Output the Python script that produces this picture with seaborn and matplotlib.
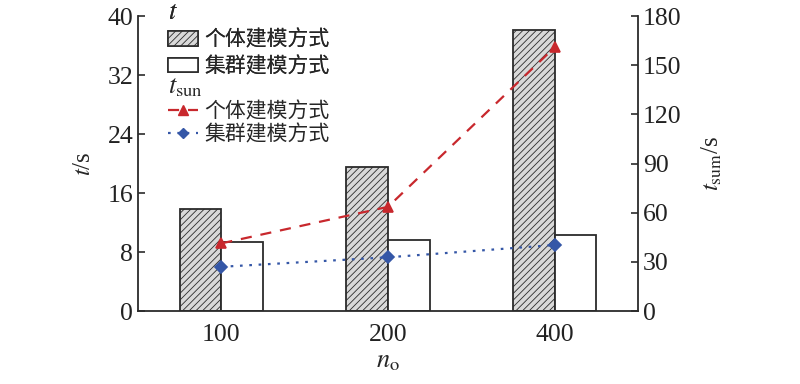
import numpy as np
import pandas as pd
import matplotlib
matplotlib.use('Agg')
import matplotlib.pyplot as plt
import seaborn as sns
from matplotlib.patches import Patch
from matplotlib.lines import Line2D

# data
n_values = ['100', '200', '400']
modes = ['个体建模方式', '集群建模方式']
t_individual = [13.8, 19.6, 38.1]
t_cluster = [9.3, 9.7, 10.3]
tsum_individual = [41.3, 63.6, 161.0]
tsum_cluster = [27.0, 32.8, 40.3]

bar_df = pd.DataFrame({
    'n': n_values * 2,
    't': t_individual + t_cluster,
    'mode': [modes[0]] * 3 + [modes[1]] * 3,
})
line_df = pd.DataFrame({
    'n': n_values * 2,
    'tsum': tsum_individual + tsum_cluster,
    'mode': [modes[0]] * 3 + [modes[1]] * 3,
})

sns.set_style('ticks')
plt.rcParams['font.family'] = ['Liberation Serif', 'Noto Sans CJK SC']
plt.rcParams['mathtext.fontset'] = 'stix'
plt.rcParams['hatch.linewidth'] = 0.6

edge = '#2b2b2b'
red = '#c8282d'
blue = '#3557a7'

fig, ax = plt.subplots(figsize=(8, 3.84), dpi=100)
fig.subplots_adjust(left=0.1725, right=0.7975, top=0.958, bottom=0.19)

sns.barplot(data=bar_df, x='n', y='t', hue='mode', hue_order=modes,
            palette=['#d9d9d9', 'white'], width=0.5, edgecolor=edge,
            linewidth=1.3, legend=False, ax=ax)
for p in ax.patches[:3]:
    p.set_hatch('/////')

ax.set_ylim(0, 40)
ax.set_yticks(np.arange(0, 41, 8))
ax.set_xlim(-0.5, 2.5)
ax.set_xlabel('$n_{\\mathrm{o}}$', fontsize=19, labelpad=4)
ax.set_ylabel('$t$/s', fontsize=18, labelpad=9)

ax2 = ax.twinx()
sns.pointplot(data=line_df, x='n', y='tsum', hue='mode', hue_order=modes,
              palette=[red, blue], markers=['^', 'D'], linestyles=['--', ':'],
              markersize=6.5, linewidth=1.6, dodge=False, errorbar=None,
              legend=False, ax=ax2)
ax2.lines[0].set_dashes([5, 4])
ax2.lines[1].set_dashes([1.2, 3])
ax2.set_ylim(0, 180)
ax2.set_yticks(np.arange(0, 181, 30))
ax2.set_xlim(-0.5, 2.5)
ax2.set_ylabel('$t_{\\mathrm{sum}}$/s', fontsize=18, labelpad=13)

for a in (ax, ax2):
    a.tick_params(direction='in', length=5, width=1.2, colors=edge,
                  labelsize=18.5, labelcolor='#222222')
    for s in a.spines.values():
        s.set_color(edge)
        s.set_linewidth(1.3)
    a.spines['top'].set_visible(False)
ax.spines['right'].set_visible(False)
ax2.spines['left'].set_visible(False)
ax2.spines['bottom'].set_visible(False)
ax.tick_params(axis='x', length=0, pad=9)

leg_font = {'size': 15}
bar_handles = [Patch(facecolor='#d9d9d9', edgecolor=edge, hatch='/////', linewidth=1.2),
               Patch(facecolor='white', edgecolor=edge, linewidth=1.2)]
leg1 = fig.legend(bar_handles, modes, loc='upper left', bbox_to_anchor=(0.194, 1.027),
                  frameon=False, prop=leg_font, title='$t$', title_fontsize=19,
                  handlelength=1.45, handleheight=0.7, handletextpad=0.3,
                  labelspacing=0.3, borderpad=0.1)
leg1._legend_box.align = 'left'
fig.add_artist(leg1)

line_handles = [Line2D([], [], color=red, linestyle=(0, (5, 4)), marker='^', markersize=6.5, linewidth=1.6),
                Line2D([], [], color=blue, linestyle=(0, (1.2, 3)), marker='D', markersize=5.5, linewidth=1.6)]
leg2 = fig.legend(line_handles, modes, loc='upper left', bbox_to_anchor=(0.194, 0.834),
                  frameon=False, prop=leg_font, title='$t_{\\mathrm{sun}}$', title_fontsize=19,
                  handlelength=1.45, handletextpad=0.3, labelspacing=0.15, borderpad=0.1)
leg2._legend_box.align = 'left'

fig.savefig('out.png', dpi=100)
